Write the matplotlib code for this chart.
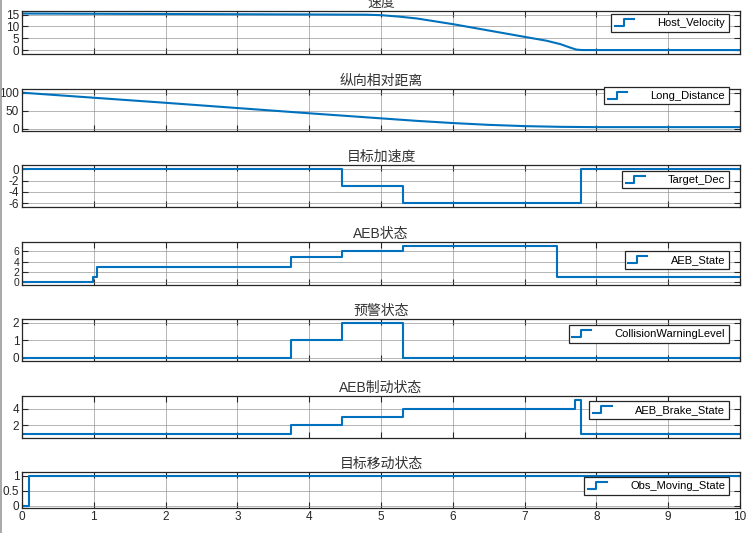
import matplotlib
matplotlib.use("Agg")
import matplotlib.pyplot as plt
from matplotlib.legend_handler import HandlerBase
from matplotlib.lines import Line2D

plt.rcParams['font.family'] = ['Liberation Sans', 'Noto Sans CJK SC', 'DejaVu Sans']

# ---------------- data ----------------
vel_t = [0, 1, 2, 3, 4, 4.8, 5.0, 5.25, 5.5, 6.0, 6.5, 7.0, 7.3, 7.5, 7.62, 7.72, 7.8, 10]
vel_v = [15.5, 15.4, 15.3, 15.2, 15.1, 15.0, 14.8, 14.2, 13.4, 11.0, 8.3, 5.6, 4.0, 2.5, 1.2, 0.2, 0.0, 0.0]

dist_t = [0, 1, 2, 3, 4, 5, 5.5, 6, 6.5, 7, 7.5, 8, 10]
dist_v = [100, 86, 72, 57.5, 43, 29, 22, 16, 11, 7.5, 5.5, 4.7, 4.7]

dec_t = [0, 4.45, 5.3, 7.79, 10]
dec_v = [0, -3, -6, 0, 0]

aeb_t = [0, 0.99, 1.04, 3.75, 4.45, 5.3, 7.45, 10]
aeb_v = [0, 1, 3, 5, 6, 7, 1, 1]

warn_t = [0, 3.75, 4.45, 5.3, 10]
warn_v = [0, 1, 2, 0, 0]

brake_t = [0, 3.75, 4.45, 5.3, 7.7, 7.79, 10]
brake_v = [1, 2, 3, 4, 5, 1, 1]

obs_t = [0, 0.1, 10]
obs_v = [0, 1, 1]

titles = ['速度', '纵向相对距离', '目标加速度', 'AEB状态', '预警状态', 'AEB制动状态', '目标移动状态']
labels = ['Host_Velocity', 'Long_Distance', 'Target_Dec', 'AEB_State',
          'CollisionWarningLevel', 'AEB_Brake_State', 'Obs_Moving_State']
series_t = [vel_t, dist_t, dec_t, aeb_t, warn_t, brake_t, obs_t]
series_v = [vel_v, dist_v, dec_v, aeb_v, warn_v, brake_v, obs_v]
steps = [False, False, True, True, True, True, True]
ylims = [(-1.8, 16.7), (-6, 111), (-6.7, 0.7), (-0.6, 7.8), (-0.17, 2.2), (0.5, 5.5), (-0.09, 1.13)]
yticks = [[0, 5, 10, 15], [0, 50, 100], [-6, -4, -2, 0], [0, 2, 4, 6], [0, 1, 2], [2, 4], [0, 0.5, 1]]
ytlabels = [['0', '5', '10', '15'], ['0', '50', '100'], ['-6', '-4', '-2', '0'],
            ['0', '2', '4', '6'], ['0', '1', '2'], ['2', '4'], ['0', '0.5', '1']]
xticks = list(range(0, 11))

# layout (pixel boxes: top, bottom)
W, H = 752, 533
boxes = [(10.7, 54.3), (88.7, 131), (165.3, 207.3), (242.3, 285), (319, 361), (396, 438), (471.7, 508.3)]
leg_anchor = [(729, 14), (729, 86.7), (729, 170.7), (729, 251), (729, 325), (729, 401), (729, 477.3)]
ax_left, ax_right = 22, 740

blue = '#0072BD'


class StepHandler(HandlerBase):
    def create_artists(self, legend, orig_handle, xdescent, ydescent, width, height, fontsize, trans):
        x0 = -xdescent
        y0 = -ydescent + height * 0.0
        y1 = -ydescent + height * 0.9
        xm = x0 + width * 0.45
        xs = [x0, xm, xm, x0 + width]
        ys = [y0, y0, y1, y1]
        ln = Line2D(xs, ys, color=orig_handle.get_color(), lw=1.5, transform=trans)
        return [ln]


fig = plt.figure(figsize=(W / 100, H / 100), dpi=100)

for i in range(7):
    top, bot = boxes[i]
    ax = fig.add_axes([ax_left / W, 1 - bot / H, (ax_right - ax_left) / W, (bot - top) / H])
    if steps[i]:
        ln, = ax.plot(series_t[i], series_v[i], drawstyle='steps-post', color=blue, lw=1.5)
    else:
        ln, = ax.plot(series_t[i], series_v[i], color=blue, lw=1.5)
    ax.set_xlim(0, 10)
    ax.set_ylim(*ylims[i])
    ax.set_xticks(xticks)
    ax.set_yticks(yticks[i])
    ax.set_yticklabels(ytlabels[i])
    if i < 6:
        ax.set_xticklabels([])
    else:
        ax.set_xticklabels([str(x) for x in xticks])
    ax.tick_params(direction='in', top=True, right=True, length=4, width=0.8,
                   labelsize=8.5, colors='#262626', pad=2)
    if i == 3:
        ax.tick_params(axis='y', labelsize=7.5)
    ax.grid(True, color='#8c8c8c', lw=0.6, alpha=0.75)
    ax.set_axisbelow(True)
    for s in ax.spines.values():
        s.set_color('#262626')
        s.set_linewidth(0.9)
    ax.set_title(titles[i], fontsize=10, color='#333333', pad=3)
    lx, ly = leg_anchor[i]
    bx = (lx - ax_left) / (ax_right - ax_left)
    by = (bot - ly) / (bot - top)
    leg = ax.legend([ln], [labels[i]], loc='upper right', bbox_to_anchor=(bx, by),
                    borderaxespad=0, fontsize=8, frameon=True, fancybox=False,
                    framealpha=1, edgecolor='#262626', handlelength=1.7,
                    handletextpad=2.1, borderpad=0.35,
                    handler_map={Line2D: StepHandler()})
    leg.get_frame().set_linewidth(0.9)

# left window border line
fig.add_artist(Line2D([1.5 / W, 1.5 / W], [0, 1], color='#9a9a9a', lw=1.2))

fig.savefig('out.png', dpi=100)
